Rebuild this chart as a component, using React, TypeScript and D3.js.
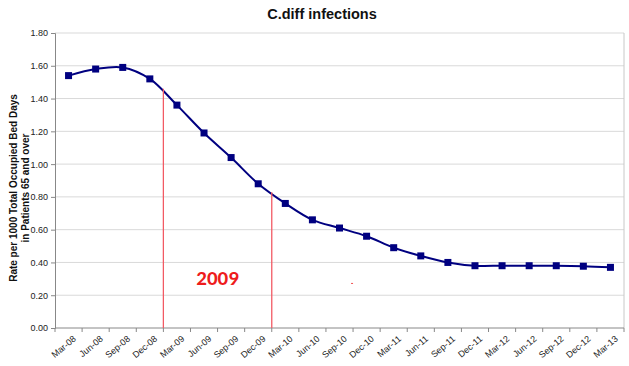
import React, { useEffect, useRef } from "react";
import * as d3 from "d3";

const quarters = [
  "Mar-08", "Jun-08", "Sep-08", "Dec-08",
  "Mar-09", "Jun-09", "Sep-09", "Dec-09",
  "Mar-10", "Jun-10", "Sep-10", "Dec-10",
  "Mar-11", "Jun-11", "Sep-11", "Dec-11",
  "Mar-12", "Jun-12", "Sep-12", "Dec-12", "Mar-13",
];
const rates = [
  1.54, 1.58, 1.59, 1.52,
  1.36, 1.19, 1.04, 0.88,
  0.76, 0.66, 0.61, 0.56,
  0.49, 0.44, 0.40, 0.38,
  0.38, 0.38, 0.38, 0.377, 0.37,
];
const yTicks = [0, 0.2, 0.4, 0.6, 0.8, 1.0, 1.2, 1.4, 1.6, 1.8];
// red markers bounding the year 2009 (boundary before Mar-09 and before Mar-10)
const yearBounds = ["Mar-09", "Mar-10"];

const W = 629;
const H = 366;

const App = () => {
  const svgRef = useRef<SVGSVGElement>(null);

  useEffect(() => {
    const svg = d3.select(svgRef.current);
    svg.selectAll("*").remove();

    const margin = { top: 33, right: 5, bottom: 38, left: 55 };
    const innerW = W - margin.left - margin.right;
    const innerH = H - margin.top - margin.bottom;

    const x = d3.scaleBand().domain(quarters).range([0, innerW]);
    const y = d3.scaleLinear().domain([0, 1.8]).range([innerH, 0]);
    const cx = (q: string) => (x(q) as number) + x.bandwidth() / 2;

    svg.append("rect").attr("width", W).attr("height", H).attr("fill", "#fff");

    // title
    svg.append("text")
      .attr("x", 322)
      .attr("y", 19)
      .attr("text-anchor", "middle")
      .attr("font-family", "Liberation Sans, Arial, sans-serif")
      .attr("font-weight", "bold")
      .attr("font-size", 14.5)
      .attr("fill", "#111")
      .text("C.diff infections");

    const g = svg.append("g").attr("transform", `translate(${margin.left},${margin.top})`);

    // gridlines
    g.append("g")
      .selectAll("line")
      .data(yTicks.filter((d) => d > 0))
      .enter()
      .append("line")
      .attr("x1", 0)
      .attr("x2", innerW)
      .attr("y1", (d) => y(d))
      .attr("y2", (d) => y(d))
      .attr("stroke", "#d9d9d9");

    // right border of plot area
    g.append("line")
      .attr("x1", innerW).attr("x2", innerW)
      .attr("y1", 0).attr("y2", innerH)
      .attr("stroke", "#c8c8c8");

    // y axis
    const yAxis = g.append("g")
      .call(d3.axisLeft(y).tickValues(yTicks).tickFormat(d3.format(".2f")).tickSize(4).tickPadding(3));
    yAxis.select(".domain").attr("stroke", "#888");
    yAxis.selectAll(".tick line").attr("stroke", "#888");
    yAxis.selectAll("text")
      .attr("font-family", "Liberation Sans, Arial, sans-serif")
      .attr("font-size", 9)
      .attr("fill", "#222");

    // x axis with ticks at category boundaries
    const xAxis = g.append("g").attr("transform", `translate(0,${innerH})`);
    xAxis.append("line")
      .attr("x1", 0).attr("x2", innerW)
      .attr("stroke", "#888");
    xAxis.selectAll("line.tk")
      .data(d3.range(quarters.length + 1))
      .enter()
      .append("line")
      .attr("class", "tk")
      .attr("x1", (i) => i * x.step())
      .attr("x2", (i) => i * x.step())
      .attr("y1", 0)
      .attr("y2", 4)
      .attr("stroke", "#888");
    xAxis.selectAll("text")
      .data(quarters)
      .enter()
      .append("text")
      .attr("transform", (d) => `translate(${cx(d) + 4},${7}) rotate(-40)`)
      .attr("text-anchor", "end")
      .attr("dy", "0.7em")
      .attr("font-family", "Liberation Sans, Arial, sans-serif")
      .attr("font-size", 9)
      .attr("fill", "#222")
      .text((d) => d);

    // y axis title
    const yTitle = svg.append("text")
      .attr("transform", `translate(17,188) rotate(-90)`)
      .attr("text-anchor", "middle")
      .attr("font-family", "Liberation Sans, Arial, sans-serif")
      .attr("font-weight", "bold")
      .attr("font-size", 10)
      .attr("fill", "#111");
    yTitle.append("tspan").attr("x", 0).attr("dy", 0).text("Rate per 1000 Total Occupied Bed Days");
    yTitle.append("tspan").attr("x", 0).attr("dy", 12).text("in Patients 65 and over");

    const pts = quarters.map((q, i) => ({ q, v: rates[i] }));
    const line = d3.line<{ q: string; v: number }>()
      .x((d) => cx(d.q))
      .y((d) => y(d.v))
      .curve(d3.curveCatmullRom);

    const path = g.append("path")
      .datum(pts)
      .attr("fill", "none")
      .attr("stroke", "#000080")
      .attr("stroke-width", 2)
      .attr("d", line);

    // red year-boundary lines, from the baseline up to the curve
    const pathNode = path.node() as SVGPathElement;
    const total = pathNode.getTotalLength();
    const yAtX = (px: number) => {
      let lo = 0, hi = total;
      for (let k = 0; k < 40; k++) {
        const mid = (lo + hi) / 2;
        if (pathNode.getPointAtLength(mid).x < px) lo = mid; else hi = mid;
      }
      return pathNode.getPointAtLength(lo).y;
    };
    g.append("g")
      .selectAll("line")
      .data(yearBounds)
      .enter()
      .append("line")
      .attr("x1", (d) => (x(d) as number))
      .attr("x2", (d) => (x(d) as number))
      .attr("y1", innerH)
      .attr("y2", (d) => yAtX(x(d) as number) - 2)
      .attr("stroke", "#f25a64")
      .attr("stroke-width", 1.3);

    // markers
    g.append("g")
      .selectAll("rect")
      .data(pts)
      .enter()
      .append("rect")
      .attr("x", (d) => cx(d.q) - 3.5)
      .attr("y", (d) => y(d.v) - 3.5)
      .attr("width", 7)
      .attr("height", 7)
      .attr("fill", "#000080");

    // "2009" label between the boundaries
    const mid = ((x("Mar-09") as number) + (x("Mar-10") as number)) / 2;
    g.append("text")
      .attr("x", mid)
      .attr("y", y(0.26))
      .attr("text-anchor", "middle")
      .attr("font-family", "Carlito, Liberation Sans, Arial, sans-serif")
      .attr("font-weight", "bold")
      .attr("font-size", 21)
      .attr("fill", "#ee1c1c")
      .text("2009");

    // tiny red speck in the original
    g.append("rect")
      .attr("x", (x("Dec-10") as number) - 2)
      .attr("y", y(0.275))
      .attr("width", 2)
      .attr("height", 1)
      .attr("fill", "#f05050");
  }, []);

  return <svg ref={svgRef} width={W} height={H} style={{ display: "block", position: "absolute", left: 0, top: 0 }} />;
};

export default App;
